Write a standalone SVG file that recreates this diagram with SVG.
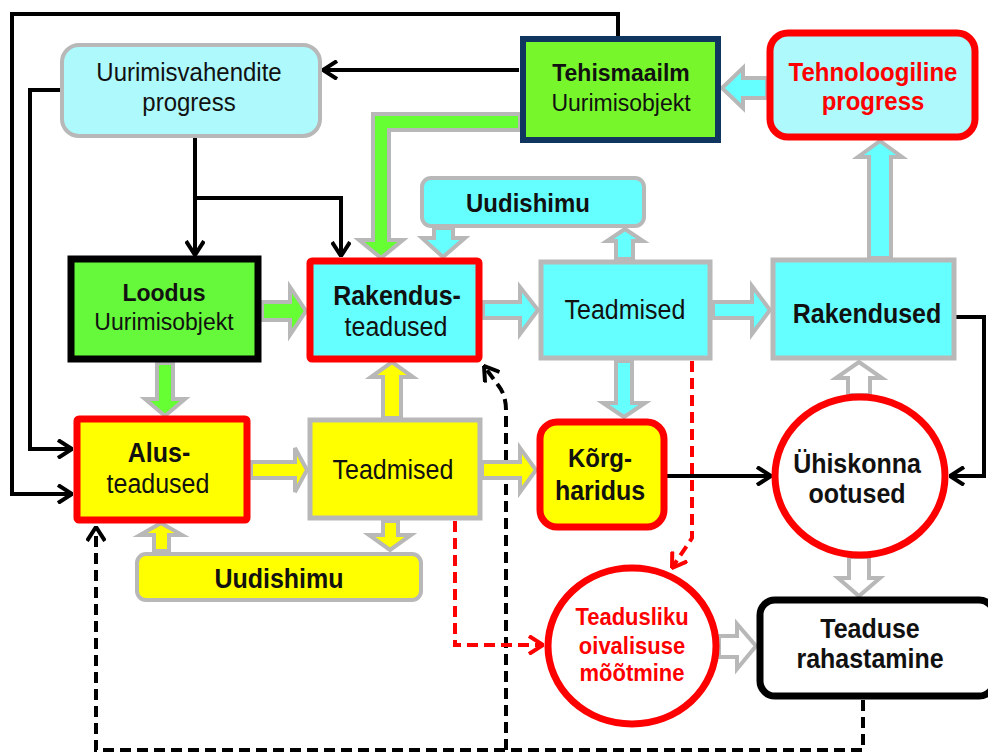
<svg xmlns="http://www.w3.org/2000/svg" width="988" height="755" viewBox="0 0 988 755">
<defs>
<style>
text{font-family:"Liberation Sans",Arial,sans-serif;text-anchor:middle;fill:#111;transform-box:fill-box;transform-origin:center;transform:scaleY(1.08)}
.b{font-weight:bold}
.r{fill:#ff0000}
.f25{font-size:25px}
.f24{font-size:24px}
.f23{font-size:23px}
.f22{font-size:22px}
.ln{fill:none;stroke:#000;stroke-width:4}
.dk{fill:none;stroke:#000;stroke-width:4;stroke-dasharray:11 6}
.dr{fill:none;stroke:#ff0000;stroke-width:4;stroke-dasharray:11 6}
.ba{stroke:#b8b8b8;stroke-width:4;stroke-linejoin:miter}
.cy{fill:#66ffff}
.ye{fill:#ffff00}
.gr{fill:#66ff33}
.wh{fill:#ffffff}
</style>
<marker id="ak" viewBox="0 0 16 20" refX="15" refY="10" markerWidth="16" markerHeight="20" orient="auto" markerUnits="userSpaceOnUse"><path d="M1,1 L15,10 L1,19" fill="none" stroke="#000" stroke-width="4"/></marker>
<marker id="ar" viewBox="0 0 16 20" refX="15" refY="10" markerWidth="16" markerHeight="20" orient="auto" markerUnits="userSpaceOnUse"><path d="M1,1 L15,10 L1,19" fill="none" stroke="#ff0000" stroke-width="4"/></marker>
</defs>
<rect width="988" height="755" fill="#ffffff"/>

<g id="connectors">
<path class="ln" d="M618,37 V14 H12 V494 H72" marker-end="url(#ak)"/>
<path class="ln" d="M519,70 H323" marker-end="url(#ak)"/>
<path class="ln" d="M60,90 H30 V449 H72" marker-end="url(#ak)"/>
<path class="ln" d="M195,138 V255" marker-end="url(#ak)"/>
<path class="ln" d="M195,198 H341 V256" marker-end="url(#ak)"/>
<path class="ln" d="M956,317 H984 V476 H950" marker-end="url(#ak)"/>
<path class="ln" d="M667,476 H771" marker-end="url(#ak)"/>
<path class="dk" d="M863,700 V750 H96 V527" marker-end="url(#ak)"/>
<path class="dk" d="M506,750 V410 Q506,395 498,385 L484,366" marker-end="url(#ak)"/>
<path class="dr" d="M455,521 V645 H543" marker-end="url(#ar)"/>
<path class="dr" d="M692,361 V538 L672,568" marker-end="url(#ar)"/>
<polygon class="ba gr" points="520,114 373,114 373,240 359,240 381,258 403,240 389,240 389,130 520,130"/>
<polygon class="ba cy" points="767,78 743,78 743,68 722,88 743,108 743,98 767,98"/>
<polygon class="ba gr" points="262,302 290,302 290,287 306,311 290,335 290,320 262,320"/>
<polygon class="ba cy" points="483,302 520,302 520,287 538,310 520,334 520,318 483,318"/>
<polygon class="ba cy" points="713,302 752,302 752,286 770,310 752,334 752,318 713,318"/>
<polygon class="ba ye" points="251,462 295,462 295,448 307,470 295,492 295,478 251,478"/>
<polygon class="ba ye" points="482,462 520,462 520,448 536,470 520,492 520,478 482,478"/>
<polygon class="ba wh" points="719,636 737,636 737,624 756,646 737,669 737,657 719,657"/>
<polygon class="ba gr" points="157,363 173,363 173,399 185,399 165,416 145,399 157,399"/>
<polygon class="ba ye" points="383,418 401,418 401,377 413,377 392,362 371,377 383,377"/>
<polygon class="ba ye" points="383,521 398,521 398,535 411,535 390,550 369,535 383,535"/>
<polygon class="ba ye" points="154,551 169,551 169,535 182,535 161,523 140,535 154,535"/>
<polygon class="ba cy" points="434,228 453,228 453,238 465,238 443,257 422,238 434,238"/>
<polygon class="ba cy" points="616,259 633,259 633,241 643,241 625,229 607,241 616,241"/>
<polygon class="ba cy" points="616,361 632,361 632,403 645,403 624,417 603,403 616,403"/>
<polygon class="ba cy" points="869,258 891,258 891,157 902,157 880,141 858,157 869,157"/>
<polygon class="ba wh" points="848,395 870,395 870,378 882,378 859,362 836,378 848,378"/>
<polygon class="ba wh" points="849,557 869,557 869,578 880,578 859,596 838,578 849,578"/>
</g>

<g id="uurimisvahendite">
<rect x="62" y="45" width="258" height="91" rx="17" fill="#adf9fc" stroke="#b8b8b8" stroke-width="4"/>
<text x="189" y="80" class="f24">Uurimisvahendite</text>
<text x="189" y="110" class="f24">progress</text>
</g>

<g id="tehismaailm">
<rect x="523" y="39" width="195" height="101" fill="#77f72b" stroke="#10355f" stroke-width="6"/>
<text x="621" y="80" class="f23 b">Tehismaailm</text>
<text x="621" y="110" class="f23">Uurimisobjekt</text>
</g>

<g id="tehnoloogiline">
<rect x="770" y="33" width="205" height="104" rx="18" fill="#adf9fc" stroke="#ff0000" stroke-width="7"/>
<text x="873" y="80" class="f24 b r">Tehnoloogiline</text>
<text x="873" y="109" class="f24 b r">progress</text>
</g>

<g id="uudishimu-cyan">
<rect x="422" y="178" width="222" height="48" rx="9" fill="#66ffff" stroke="#b8b8b8" stroke-width="4"/>
<text x="528" y="211" class="f24 b">Uudishimu</text>
</g>

<g id="loodus">
<rect x="71" y="259" width="187" height="100" fill="#66f83a" stroke="#000" stroke-width="7"/>
<text x="164" y="300" class="f23 b">Loodus</text>
<text x="164" y="329" class="f23">Uurimisobjekt</text>
</g>

<g id="rakendusteadused">
<rect x="310" y="261" width="169" height="98" rx="2" fill="#66ffff" stroke="#ff0000" stroke-width="7"/>
<text x="397" y="304" class="f25 b">Rakendus-</text>
<text x="396" y="335" class="f25">teadused</text>
</g>

<g id="teadmised-cyan">
<rect x="541" y="262" width="169" height="96" fill="#66ffff" stroke="#b8b8b8" stroke-width="5"/>
<text x="625" y="318" class="f25">Teadmised</text>
</g>

<g id="rakendused">
<rect x="773" y="260" width="181" height="98" fill="#66ffff" stroke="#b8b8b8" stroke-width="5"/>
<text x="867" y="322" class="f25 b">Rakendused</text>
</g>

<g id="alusteadused">
<rect x="77" y="419" width="170" height="101" rx="2" fill="#ffff00" stroke="#ff0000" stroke-width="7"/>
<text x="159" y="461" class="f25 b">Alus-</text>
<text x="158" y="492" class="f25">teadused</text>
</g>

<g id="teadmised-yellow">
<rect x="310" y="420" width="170" height="98" fill="#ffff00" stroke="#b8b8b8" stroke-width="5"/>
<text x="393" y="478" class="f25">Teadmised</text>
</g>

<g id="korgharidus">
<rect x="540" y="422" width="124" height="105" rx="17" fill="#ffff00" stroke="#ff0000" stroke-width="7"/>
<text x="600" y="466" class="f24 b">Kõrg-</text>
<text x="600" y="499" class="f25 b">haridus</text>
</g>

<g id="uhiskonna">
<ellipse cx="860" cy="476" rx="85" ry="79" fill="#ffffff" stroke="#ff0000" stroke-width="7"/>
<text x="857" y="472" class="f25 b">Ühiskonna</text>
<text x="857" y="502" class="f25 b">ootused</text>
</g>

<g id="uudishimu-yellow">
<rect x="137" y="554" width="284" height="46" rx="9" fill="#ffff00" stroke="#b8b8b8" stroke-width="4"/>
<text x="279" y="587" class="f25 b">Uudishimu</text>
</g>

<g id="teadusliku">
<ellipse cx="632" cy="646" rx="84" ry="78" fill="#ffffff" stroke="#ff0000" stroke-width="7"/>
<text x="632" y="624" class="f22 b r">Teadusliku</text>
<text x="632" y="653" class="f22 b r">oivalisuse</text>
<text x="632" y="680" class="f22 b r">mõõtmine</text>
</g>

<g id="rahastamine">
<rect x="760" y="600" width="234" height="96" rx="15" fill="#ffffff" stroke="#000" stroke-width="7"/>
<text x="870" y="637" class="f25 b">Teaduse</text>
<text x="870" y="667" class="f25 b">rahastamine</text>
</g>
</svg>
